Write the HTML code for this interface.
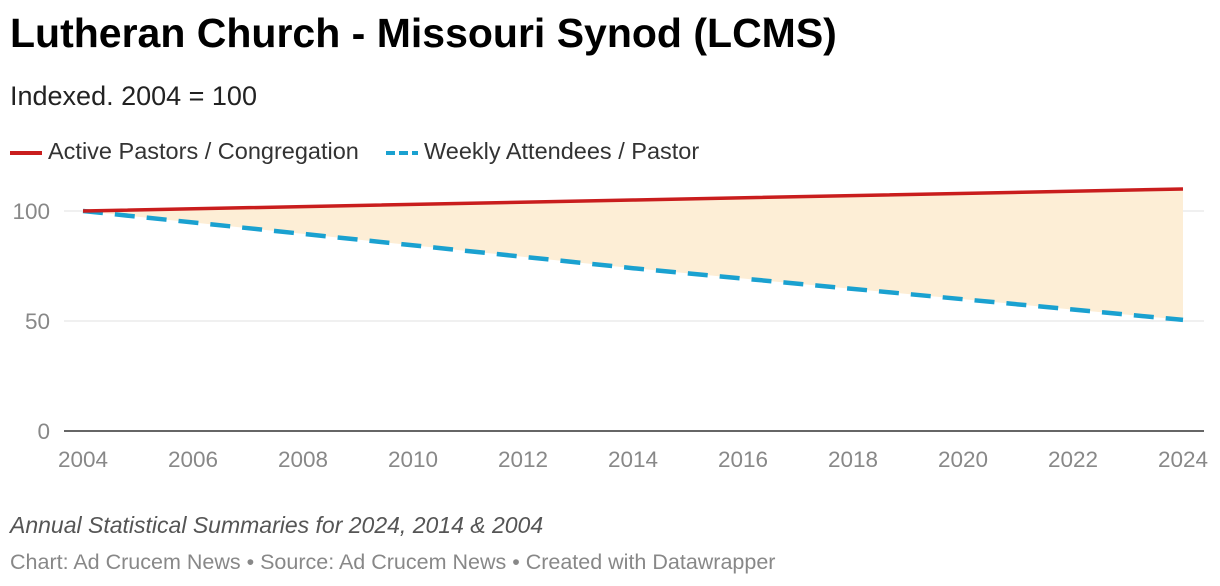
<!DOCTYPE html>
<html><head><meta charset="utf-8"><style>
body{margin:0;background:#fff;font-family:"Liberation Sans",sans-serif;}
#wrap{position:relative;width:1220px;height:586px;overflow:hidden}
.t{position:absolute;white-space:nowrap}
</style></head><body>
<div id="wrap">
<div class="t" style="left:10px;top:10px;font-size:41px;font-weight:bold;color:#000">Lutheran Church - Missouri Synod (LCMS)</div>
<div class="t" style="left:10px;top:81px;font-size:27px;color:#222">Indexed. 2004 = 100</div>
<div class="t" style="left:10px;top:138px;font-size:23.5px;color:#333"><span style="display:inline-block;width:32px;height:4px;background:#c91d1d;vertical-align:middle;margin-right:6px"></span>Active Pastors / Congregation</div>
<div class="t" style="left:386px;top:138px;font-size:23.5px;color:#333"><span style="display:inline-block;width:32px;height:4px;background:repeating-linear-gradient(90deg,#1aa1d0 0 9px,transparent 9px 13px);vertical-align:middle;margin-right:6px"></span>Weekly Attendees / Pastor</div>
<svg id="chart" width="1220" height="586" style="position:absolute;left:0;top:0"></svg>
<div class="t" style="left:10px;top:512px;font-size:23px;font-style:italic;color:#555">Annual Statistical Summaries for 2024, 2014 &amp; 2004</div>
<div class="t" style="left:10px;top:550px;font-size:21.5px;color:#888">Chart: Ad Crucem News • Source: Ad Crucem News • Created with Datawrapper</div>
</div>
<script>
const years=[2004,2014,2024];
const pastors=[100,105,110];
const attendees=[100,74,50.5];
const yTicks=[0,50,100];
const xTicks=[2004,2006,2008,2010,2012,2014,2016,2018,2020,2022,2024];
const svg=document.getElementById('chart');
const NS='http://www.w3.org/2000/svg';
const x=v=>83+(v-2004)*55;
const y=v=>431-v*2.2;
function mk(tag,a){const e=document.createElementNS(NS,tag);for(const k in a)e.setAttribute(k,a[k]);svg.appendChild(e);return e;}
yTicks.forEach(v=>{
 const l=mk('line',{x1:64,x2:1204,y1:y(v),y2:y(v),stroke:v===0?'#333':'#e2e2e2','stroke-width':v===0?1.5:1});
 
 
 const t=mk('text',{x:50,y:y(v)+8,'text-anchor':'end','font-size':22.5,fill:'#888','font-family':'Liberation Sans'});
 t.textContent=v;
 
 
});
xTicks.forEach(v=>{
 const t=mk('text',{x:x(v),y:467,'text-anchor':'middle','font-size':22.5,fill:'#888','font-family':'Liberation Sans'});
 t.textContent=v;
 
 
});
let pts=years.map((yr,i)=>x(yr)+','+y(pastors[i]));
let pts2=years.map((yr,i)=>x(yr)+','+y(attendees[i])).reverse();
const area=mk('polygon',{points:pts.concat(pts2).join(' '),fill:'#fdeed6'});


const l2=mk('polyline',{points:years.map((yr,i)=>x(yr)+','+y(attendees[i])).join(' '),fill:'none',stroke:'#1aa1d0','stroke-width':4.5,'stroke-dasharray':'20 12'});


const l1=mk('polyline',{points:pts.join(' '),fill:'none',stroke:'#c91d1d','stroke-width':3.5});


</script>
</body></html>
